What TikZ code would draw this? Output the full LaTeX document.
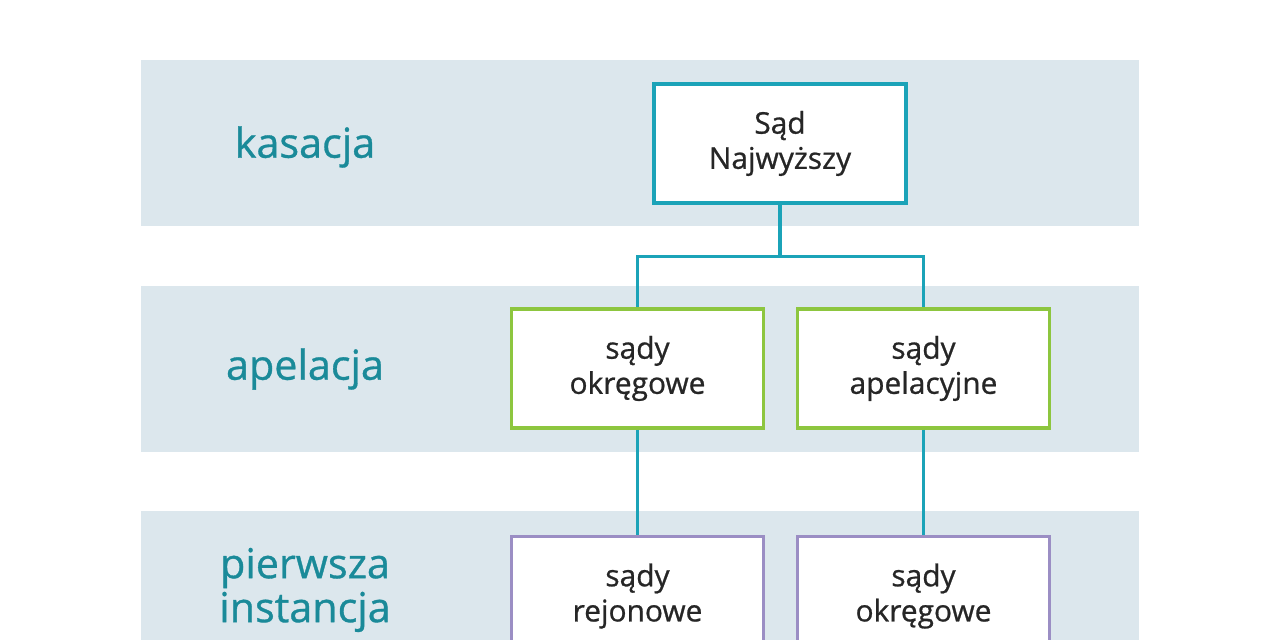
\documentclass[tikz,border=0pt]{standalone}
\usepackage{fontspec}
\setmainfont{Open Sans}[BoldFont=Open Sans, BoldFeatures={FakeBold=0.8}]
\usetikzlibrary{positioning}
\definecolor{bandbg}{RGB}{220,231,237}
\definecolor{topteal}{RGB}{27,163,184}
\definecolor{appgreen}{RGB}{141,198,63}
\definecolor{firstviolet}{RGB}{155,142,196}
\definecolor{lbteal}{RGB}{26,138,153}
\tikzset{
    band/.style={fill=bandbg, draw=none},
    court/.style={rectangle, fill=white, line width=1.8pt, minimum width=5.04cm, minimum height=2.38cm, align=center, font=\fontsize{17}{20}\bfseries, text=black!85},
    level/.style={font=\fontsize{23.5}{25}\bfseries, text=lbteal, align=center},
    link/.style={topteal, line width=1.8pt},
}
\begin{document}
\begin{tikzpicture}
\useasboundingbox (0,0) rectangle (25.6,12.8);
\clip (0,0) rectangle (25.6,12.8);

% Bands
\fill[band] (2.82,8.28) rectangle (22.78,11.6);
\fill[band] (2.82,3.76) rectangle (22.78,7.08);
\fill[band] (2.82,-1) rectangle (22.78,2.58);

% Level labels
\node[level] (l-kas) at (6.1,9.86) {kasacja};
\node[level] (l-ape) at (6.1,5.42) {apelacja};
\node[level] (l-first) at (6.1,1.0) {pierwsza\\instancja};

% Courts
\node[court, draw=topteal] (sn) at (15.6,9.93) {Sąd\\Najwyższy};
\node[court, draw=appgreen] (okr-a) at (12.75,5.43) {sądy\\okręgowe};
\node[court, draw=appgreen] (apel) at (18.47,5.43) {sądy\\apelacyjne};
\node[court, draw=firstviolet, anchor=north] (rej) at (12.75,2.1) {sądy\\rejonowe};
\node[court, draw=firstviolet, anchor=north] (okr-b) at (18.47,2.1) {sądy\\okręgowe};

% Connectors
\coordinate (fork) at ([yshift=-1.04cm]sn.south);
\draw[link] (sn.south) -- (fork);
\draw[link] (okr-a.north) |- (fork) -| (apel.north);
\draw[link] (okr-a.south) -- (rej.north);
\draw[link] (apel.south) -- (okr-b.north);
\end{tikzpicture}
\end{document}
